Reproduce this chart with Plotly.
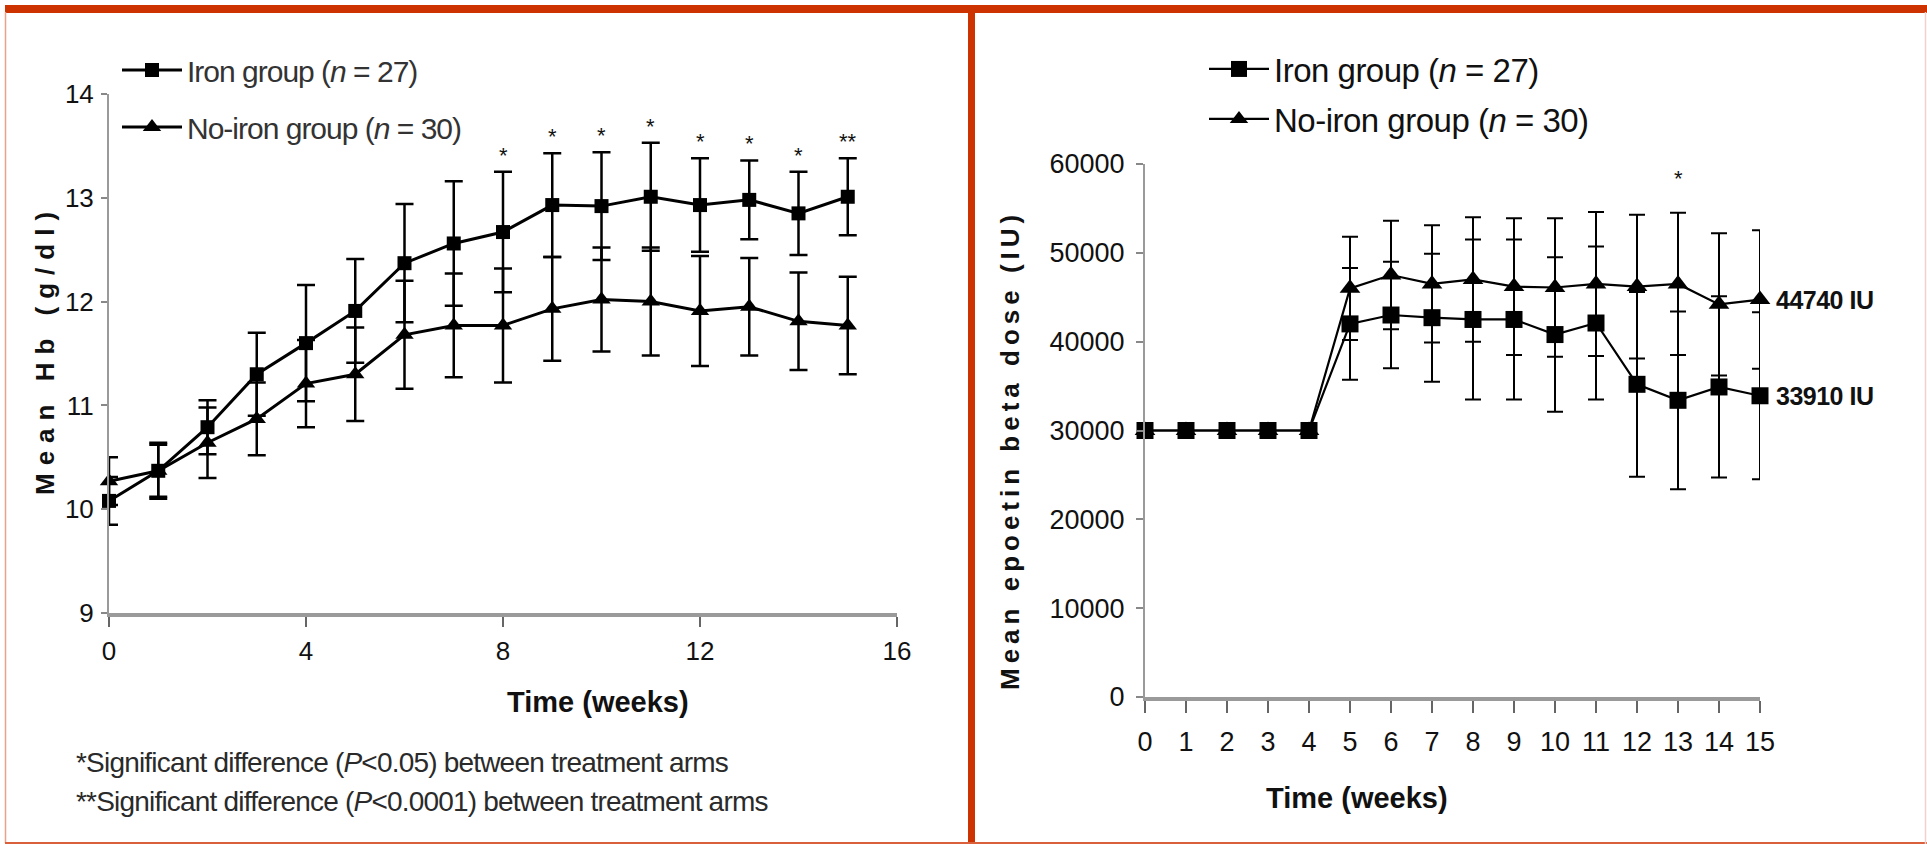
import plotly.graph_objects as go

# ---------------- data ----------------
weeks_hb = list(range(16))
iron_hb = [10.08, 10.37, 10.79, 11.30, 11.60, 11.91, 12.37, 12.56, 12.67, 12.93, 12.92, 13.01, 12.93, 12.98, 12.85, 13.01]
iron_hb_sd = [0.23, 0.27, 0.26, 0.40, 0.56, 0.50, 0.57, 0.60, 0.58, 0.50, 0.52, 0.52, 0.45, 0.38, 0.40, 0.37]
noiron_hb = [10.27, 10.37, 10.64, 10.87, 11.21, 11.30, 11.68, 11.77, 11.77, 11.93, 12.02, 12.00, 11.91, 11.95, 11.81, 11.77]
noiron_hb_sd = [0.23, 0.25, 0.34, 0.35, 0.42, 0.45, 0.52, 0.50, 0.55, 0.50, 0.50, 0.52, 0.53, 0.47, 0.47, 0.47]
hb_sig = ["", "", "", "", "", "", "", "", "*", "*", "*", "*", "*", "*", "*", "**"]

weeks_epo = list(range(16))
iron_epo = [30000, 30000, 30000, 30000, 30000, 42000, 43000, 42700, 42500, 42500, 40800, 42100, 35200, 33400, 34900, 33910]
iron_epo_sd = [0, 0, 0, 0, 0, 6300, 6000, 7200, 9000, 9000, 8700, 8600, 10400, 10000, 10200, 9400]
noiron_epo = [30000, 30000, 30000, 30000, 30000, 46000, 47500, 46500, 47000, 46200, 46100, 46500, 46200, 46500, 44200, 44740]
noiron_epo_sd = [0, 0, 0, 0, 0, 5800, 6100, 6600, 7000, 7700, 7800, 8100, 8100, 8000, 8000, 7800]
epo_sig = ["", "", "", "", "", "", "", "", "", "", "", "", "", "*", "", ""]
end_labels = ["44740 IU", "33910 IU"]

hb_ticks_x = [0, 4, 8, 12, 16]
epo_ticks_x = list(range(16))

legend_iron = "Iron group (<i>n</i> = 27)"
legend_noiron = "No-iron group (<i>n</i> = 30)"
foot1 = "*Significant difference (<i>P</i>&lt;0.05) between treatment arms"
foot2 = "**Significant difference (<i>P</i>&lt;0.0001) between treatment arms"
x_title = "Time (weeks)"
y_title_hb = "Mean Hb (g/dl)"
y_title_epo = "Mean epoetin beta dose (IU)"

# ---------------- style ----------------
W, H = 1927, 844
SANS = "Liberation Sans, Arial, sans-serif"
ORANGE = "#CC3300"
TXT = "#111111"


def px_x(p):
    return p / W


def px_y(p):
    return 1 - p / H


def spaced(text, ls):
    return '<span style="letter-spacing:%spx">%s</span>' % (ls, text)


fig = go.Figure()

# Left panel
fig.add_trace(go.Scatter(
    x=weeks_hb, y=noiron_hb, mode="lines+markers", name=spaced(legend_noiron, -1),
    line=dict(color="black", width=3),
    marker=dict(symbol="triangle-up", size=16, color="black"),
    error_y=dict(type="data", array=noiron_hb_sd, color="black", thickness=2.5, width=9),
    xaxis="x", yaxis="y", legend="legend2", cliponaxis=False))
fig.add_trace(go.Scatter(
    x=weeks_hb, y=iron_hb, mode="lines+markers", name=spaced(legend_iron, -1),
    line=dict(color="black", width=3),
    marker=dict(symbol="square", size=14, color="black"),
    error_y=dict(type="data", array=iron_hb_sd, color="black", thickness=2.5, width=9),
    xaxis="x", yaxis="y", legend="legend", cliponaxis=False))

# Right panel
fig.add_trace(go.Scatter(
    x=weeks_epo, y=noiron_epo, mode="lines+markers", name=spaced(legend_noiron, -0.5),
    line=dict(color="black", width=2.2),
    marker=dict(symbol="triangle-up", size=18, color="black"),
    error_y=dict(type="data", array=noiron_epo_sd, color="black", thickness=2, width=8),
    xaxis="x2", yaxis="y2", legend="legend4", cliponaxis=False))
fig.add_trace(go.Scatter(
    x=weeks_epo, y=iron_epo, mode="lines+markers", name=spaced(legend_iron, -0.5),
    line=dict(color="black", width=2.2),
    marker=dict(symbol="square", size=17, color="black"),
    error_y=dict(type="data", array=iron_epo_sd, color="black", thickness=2, width=8),
    xaxis="x2", yaxis="y2", legend="legend3", cliponaxis=False))

annotations = []
for w, v, s, mark in zip(weeks_hb, iron_hb, iron_hb_sd, hb_sig):
    if mark:
        annotations.append(dict(x=w, y=v + s, xref="x", yref="y", text=mark, showarrow=False,
                                yanchor="bottom", yshift=2, font=dict(family=SANS, size=22, color=TXT)))
for w, v, s, mark in zip(weeks_epo, noiron_epo, noiron_epo_sd, epo_sig):
    if mark:
        annotations.append(dict(x=w, y=v + s, xref="x2", yref="y2", text=mark, showarrow=False,
                                yanchor="bottom", yshift=20, font=dict(family=SANS, size=22, color=TXT)))
for lab, v in zip(end_labels, [noiron_epo[-1], iron_epo[-1]]):
    annotations.append(dict(x=weeks_epo[-1], y=v, xref="x2", yref="y2", text="<b>" + spaced(lab, -0.5) + "</b>",
                            showarrow=False, xanchor="left", xshift=14,
                            font=dict(family=SANS, size=25, color=TXT)))

annotations += [
    dict(x=px_x(505), y=px_y(720), xref="paper", yref="paper", text="<b>" + x_title + "</b>", showarrow=False,
         font=dict(family=SANS, size=29, color=TXT)),
    dict(x=px_x(1450), y=px_y(816), xref="paper", yref="paper", text="<b>" + x_title + "</b>", showarrow=False,
         font=dict(family=SANS, size=29, color=TXT)),
    dict(x=px_x(28), y=px_y(350), xref="paper", yref="paper", textangle=-90, showarrow=False,
         text="<b>" + spaced(y_title_hb, 8) + "</b>",
         font=dict(family=SANS, size=26, color=TXT)),
    dict(x=px_x(1010), y=px_y(450), xref="paper", yref="paper", textangle=-90, showarrow=False,
         text="<b>" + spaced(y_title_epo, 5) + "</b>",
         font=dict(family=SANS, size=26, color=TXT)),
    dict(x=px_x(74), y=px_y(780), xref="paper", yref="paper", xanchor="left", text=spaced(foot1, -0.8),
         showarrow=False, font=dict(family=SANS, size=28, color="#2a2a2a")),
    dict(x=px_x(74), y=px_y(819), xref="paper", yref="paper", xanchor="left", text=spaced(foot2, -0.8),
         showarrow=False, font=dict(family=SANS, size=28, color="#2a2a2a")),
]

shapes = [
    dict(type="rect", xref="paper", yref="paper", x0=px_x(5), x1=1, y0=px_y(13), y1=px_y(5),
         fillcolor=ORANGE, line=dict(width=0), layer="above"),
    dict(type="rect", xref="paper", yref="paper", x0=px_x(968), x1=px_x(975), y0=0, y1=px_y(5),
         fillcolor=ORANGE, line=dict(width=0), layer="above"),
    dict(type="line", xref="paper", yref="paper", x0=px_x(5.5), x1=px_x(5.5), y0=px_y(843), y1=px_y(12),
         line=dict(color="#E8A28A", width=1.5)),
    dict(type="line", xref="paper", yref="paper", x0=px_x(5), x1=1, y0=px_y(843), y1=px_y(843),
         line=dict(color="#D9603A", width=2)),
    dict(type="line", xref="paper", yref="paper", x0=px_x(1925.5), x1=px_x(1925.5), y0=0, y1=px_y(12),
         line=dict(color="#F2D0D0", width=1.5)),
]

legend_common = dict(bgcolor="rgba(0,0,0,0)", borderwidth=0, xanchor="left", yanchor="middle",
                     itemwidth=60, itemclick=False, itemdoubleclick=False)

axis_common = dict(showgrid=False, zeroline=False, automargin=False, showline=True, ticks="outside",
                   tickwidth=2)

fig.update_layout(
    width=W, height=H, margin=dict(l=0, r=0, t=0, b=0, pad=0, autoexpand=False),
    paper_bgcolor="white", plot_bgcolor="white", showlegend=True,
    annotations=annotations, shapes=shapes,
    legend=dict(x=px_x(117), y=px_y(70), font=dict(family=SANS, size=30, color="#333"), **legend_common),
    legend2=dict(x=px_x(117), y=px_y(127), font=dict(family=SANS, size=30, color="#333"), **legend_common),
    legend3=dict(x=px_x(1204), y=px_y(69), font=dict(family=SANS, size=33, color=TXT), **legend_common),
    legend4=dict(x=px_x(1204), y=px_y(119), font=dict(family=SANS, size=33, color=TXT), **legend_common),
    xaxis=dict(domain=[px_x(109), px_x(897)], range=[0, 16], tickvals=hb_ticks_x,
               linecolor="#9a9a9a", linewidth=4, ticklen=10, tickcolor="#666",
               tickfont=dict(family=SANS, size=26, color=TXT), ticklabelstandoff=2, anchor="y", **axis_common),
    yaxis=dict(domain=[px_y(613), px_y(94)], range=[9, 14], dtick=1,
               linecolor="#9a9a9a", linewidth=2, ticklen=6, tickcolor="#888",
               tickfont=dict(family=SANS, size=26, color=TXT), ticklabelstandoff=2, anchor="x", **axis_common),
    xaxis2=dict(domain=[px_x(1145), px_x(1760)], range=[0, 15], tickvals=epo_ticks_x,
                linecolor="#9a9a9a", linewidth=4, ticklen=12, tickcolor="#666",
                tickfont=dict(family=SANS, size=27, color=TXT), ticklabelstandoff=6, anchor="y2", **axis_common),
    yaxis2=dict(domain=[px_y(697), px_y(164)], range=[0, 60000], dtick=10000, tickformat="d",
                linecolor="#9a9a9a", linewidth=2, ticklen=7, tickcolor="#888",
                tickfont=dict(family=SANS, size=27, color=TXT), ticklabelstandoff=6, anchor="x2", **axis_common),
)

fig.write_html("out.html")
